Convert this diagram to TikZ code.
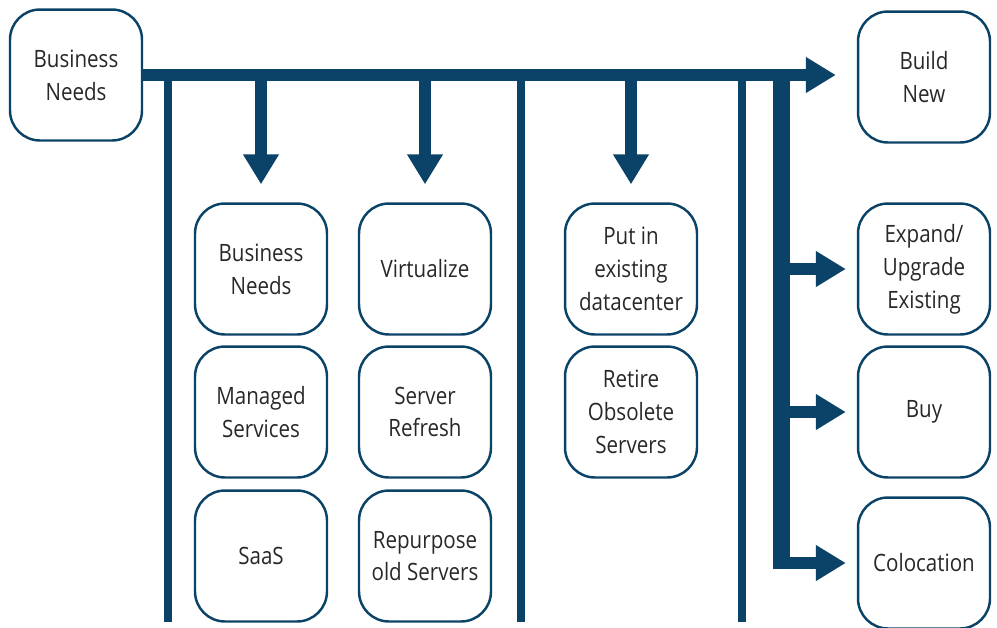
\documentclass[tikz,border=0pt]{standalone}
\usepackage{fontspec}
\setmainfont[FakeStretch=0.86]{Open Sans}
\usetikzlibrary{arrows.meta,positioning}
\definecolor{navy}{RGB}{10,67,103}
\definecolor{txtgray}{RGB}{40,40,40}
\tikzset{
  box/.style={draw=navy, line width=1.4pt, rounded corners=0.6cm, minimum width=2.64cm,
    minimum height=2.62cm, inner sep=0pt, align=center, text=txtgray,
    font=\fontsize{13.6}{18.7}\selectfont},
  rail/.style={navy, line width=0.16cm},
  trunkline/.style={navy, line width=0.34cm},
  flow/.style={navy, line width=0.24cm, -{Triangle[length=0.6cm,width=0.68cm]}},
}
\begin{document}
\begin{tikzpicture}[x=0.02cm, y=-0.02cm]
    \useasboundingbox (0,0) rectangle (997,627);

    % source and targets
    \node (needs) [box] at (76,75) {Business\\Needs};
    \node (build) [box] at (924,77) {Build\\New};
    \node (expand) [box] at (924,269) {Expand/\\Upgrade\\Existing};
    \node (buy) [box] at (924,412) {Buy};
    \node (coloc) [box] at (924,563) {Colocation};

    % options
    \node (needstwo) [box] at (261,269) {Business\\Needs};
    \node (managed) [box] at (261,412) {Managed\\Services};
    \node (saas) [box] at (261,556) {SaaS};
    \node (virt) [box] at (425,269) {Virtualize};
    \node (refresh) [box] at (425,412) {Server\\Refresh};
    \node (repurpose) [box] at (425,556) {Repurpose\\old Servers};
    \node (existing) [box] at (631,269) {Put in\\existing\\datacenter};
    \node (retire) [box] at (631,412) {Retire\\Obsolete\\Servers};

    \coordinate (railA) at (168,622);
    \coordinate (railB) at (521,622);
    \coordinate (railC) at (742,622);
    \coordinate (trunk) at (781,569);

    \foreach \r in {railA,railB,railC}
        \draw[rail] (\r |- needs.east) -- (\r);
    \draw[trunkline] (trunk |- needs.east) -- (trunk);

    \draw[flow, shorten >=0.42cm] (needs.east) -- (needs.east -| build.west);
    \foreach \t in {needstwo,virt,existing}
        \draw[flow, shorten >=0.36cm] (needs.east -| \t.north) -- (\t.north);
    \foreach \t in {expand,buy,coloc}
        \draw[flow, shorten >=0.22cm] (trunk |- \t.west) -- (\t.west);
\end{tikzpicture}
\end{document}
